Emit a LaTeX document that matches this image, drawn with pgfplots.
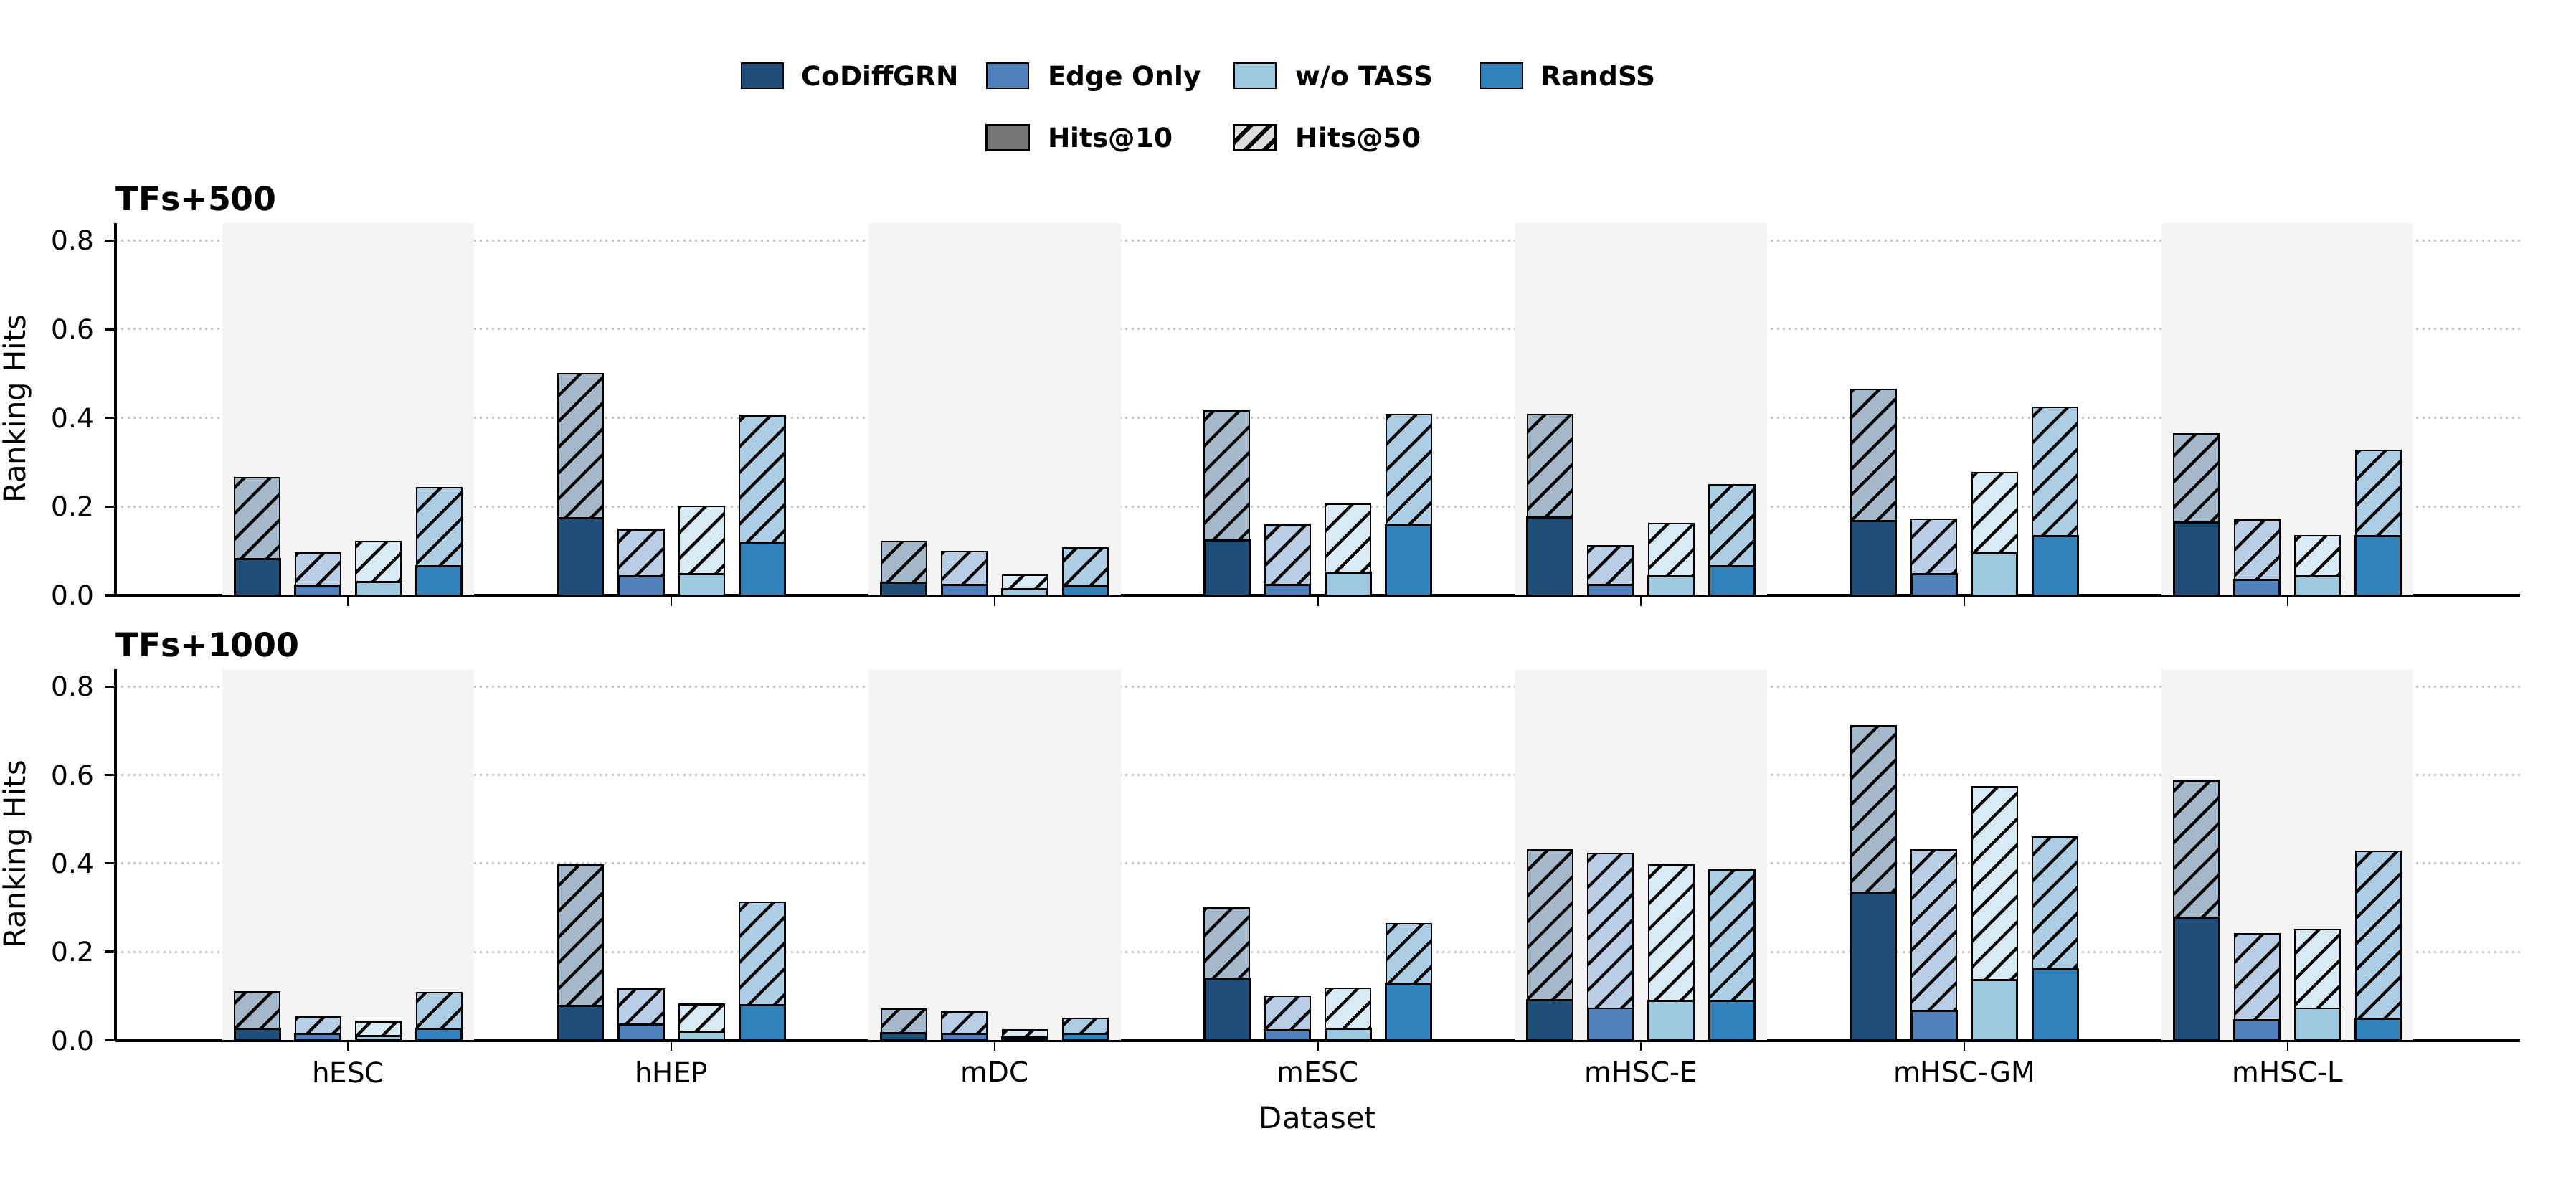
\documentclass[border=0pt]{standalone}
\usepackage{fontspec}
\setmainfont{DejaVu Sans}
\usepackage{pgfplots}
\pgfplotsset{compat=1.18}
\usepackage{pgfplotstable}
\usetikzlibrary{patterns.meta}

\definecolor{cGRN}{HTML}{1F4E79}
\definecolor{cEdge}{HTML}{4F81BD}
\definecolor{cTASS}{HTML}{9ECAE1}
\definecolor{cRand}{HTML}{3182BD}
\definecolor{bandc}{HTML}{F4F4F4}
\definecolor{gridc}{HTML}{C8C8C8}
\definecolor{hitsten}{HTML}{777777}
\definecolor{hitsfifty}{HTML}{DDDDDD}

% Hits@10 (x10) and Hits@50 (x50) per dataset; c = CoDiffGRN, e = Edge Only, w = w/o TASS, r = RandSS
\pgfplotstableread{
g c10   c50   e10   e50   w10   w50   r10   r50
0 0.081 0.265 0.022 0.095 0.030 0.121 0.065 0.243
1 0.174 0.500 0.043 0.148 0.047 0.201 0.119 0.405
2 0.028 0.122 0.023 0.098 0.014 0.046 0.020 0.107
3 0.124 0.415 0.024 0.158 0.051 0.205 0.157 0.407
4 0.176 0.408 0.024 0.111 0.043 0.162 0.065 0.249
5 0.168 0.464 0.047 0.172 0.094 0.277 0.134 0.423
6 0.164 0.363 0.035 0.169 0.043 0.134 0.133 0.327
}\tfsfive

\pgfplotstableread{
g c10   c50   e10   e50   w10   w50   r10   r50
0 0.026 0.109 0.015 0.053 0.010 0.042 0.026 0.107
1 0.078 0.397 0.035 0.116 0.020 0.081 0.080 0.312
2 0.016 0.070 0.014 0.064 0.006 0.024 0.014 0.050
3 0.140 0.299 0.022 0.100 0.026 0.118 0.128 0.263
4 0.090 0.431 0.072 0.422 0.089 0.396 0.089 0.385
5 0.334 0.711 0.067 0.431 0.136 0.573 0.160 0.459
6 0.277 0.587 0.046 0.241 0.072 0.251 0.049 0.427
}\tfsthousand

\pgfplotsset{
  hitsbar/.style={ybar, bar width=0.14, draw=black, line width=0.5pt, forget plot},
  hatched/.style={postaction={pattern={Lines[angle=45,distance=6.1pt,line width=1pt]}, pattern color=black}},
  panel/.style={
    set layers,
    scale only axis, width=804.72pt, anchor=south west,
    xmin=-0.72, xmax=6.72, ymin=0, ymax=0.84,
    xtick={0,1,2,3,4,5,6}, ytick={0,0.2,0.4,0.6,0.8},
    axis x line*=bottom, axis y line*=left,
    axis line style={-, line width=1.1pt},
    tick align=outside, major tick length=3.6pt,
    xtick style={line width=0.5pt, black},
    ytick style={line width=0.8pt, black},
    ymajorgrids,
    major grid style={gridc, line width=0.7pt, dash pattern=on 0.7pt off 1.3pt},
    /pgf/number format/assume math mode=true,
    yticklabel style={/pgf/number format/fixed, /pgf/number format/fixed zerofill, /pgf/number format/precision=1},
    tick label style={font=\fontsize{9}{10}\selectfont},
    xticklabel style={font=\fontsize{9.3}{10}\selectfont},
    every axis y label/.style={at={(axis description cs:-0.041,0.5)}, rotate=90, anchor=center, font=\fontsize{10}{12}\selectfont},
    ylabel={Ranking Hits},
    title style={at={(axis description cs:0,1)}, anchor=base west, yshift=-1.9pt, inner sep=0pt, font=\bfseries\fontsize{11}{13}\selectfont},
  },
}

% the four stacked bars of every dataset: Hits@50 hatched, Hits@10 solid in front
\newcommand{\drawbars}[1]{%
  \addplot[hitsbar, bar shift=-0.28125, fill=cGRN!40!white, hatched] table[x=g, y=c50] {#1};
  \addplot[hitsbar, bar shift=-0.09375, fill=cEdge!40!white, hatched] table[x=g, y=e50] {#1};
  \addplot[hitsbar, bar shift=0.09375, fill=cTASS!40!white, hatched] table[x=g, y=w50] {#1};
  \addplot[hitsbar, bar shift=0.28125, fill=cRand!40!white, hatched] table[x=g, y=r50] {#1};
  \addplot[hitsbar, line width=0.7pt, bar shift=-0.28125, fill=cGRN] table[x=g, y=c10] {#1};
  \addplot[hitsbar, line width=0.7pt, bar shift=-0.09375, fill=cEdge] table[x=g, y=e10] {#1};
  \addplot[hitsbar, line width=0.7pt, bar shift=0.09375, fill=cTASS] table[x=g, y=w10] {#1};
  \addplot[hitsbar, line width=0.7pt, bar shift=0.28125, fill=cRand] table[x=g, y=r10] {#1};
}
\newcommand{\drawbands}{%
  \fill[bandc, on layer=axis background] (axis cs:-0.39,0) rectangle (axis cs:0.39,0.84);
  \fill[bandc, on layer=axis background] (axis cs:1.61,0) rectangle (axis cs:2.39,0.84);
  \fill[bandc, on layer=axis background] (axis cs:3.61,0) rectangle (axis cs:4.39,0.84);
  \fill[bandc, on layer=axis background] (axis cs:5.61,0) rectangle (axis cs:6.39,0.84);
}

\begin{document}
\begin{tikzpicture}
\begin{axis}[panel, at={(38.64pt,197.76pt)}, height=124.68pt,
  title={TFs+500}, xticklabels={},
  legend columns=4,
  legend image code/.code={\draw[#1] (0pt,-0.9pt) rectangle (14pt,7.5pt);},
  legend style={at={(axis description cs:0.260,1.4296)}, anchor=north west,
    draw=none, fill=none, inner sep=0pt, outer sep=0pt,
    font=\bfseries\fontsize{9}{10}\selectfont, row sep=11pt,
    nodes={inner sep=0pt}, cells={anchor=base west},
    /tikz/every odd column/.style={column sep=6pt},
    /tikz/every even column/.style={column sep=0pt}},
]
\addlegendimage{fill=cGRN, draw=none}
\addlegendentry{\makebox[61.6pt][l]{CoDiffGRN}}
\addlegendimage{fill=cEdge, draw=none}
\addlegendentry{\makebox[61.6pt][l]{Edge Only}}
\addlegendimage{fill=cTASS, draw=none}
\addlegendentry{\makebox[61.6pt][l]{w/o TASS}}
\addlegendimage{fill=cRand, draw=none}
\addlegendentry{\makebox[61.6pt][l]{RandSS}}
\addlegendimage{empty legend}
\addlegendentry{\makebox[61.6pt][l]{}}
\addlegendimage{fill=hitsten, draw=black, line width=0.8pt}
\addlegendentry{\makebox[61.6pt][l]{Hits@10}}
\addlegendimage{fill=hitsfifty, draw=black, line width=0.8pt, postaction={pattern={Lines[angle=45,distance=4.5pt,line width=1.4pt]}, pattern color=black}}
\addlegendentry{\makebox[61.6pt][l]{Hits@50}}
\addlegendimage{empty legend}
\addlegendentry{\makebox[61.6pt][l]{}}
\drawbands
\drawbars{\tfsfive}
\end{axis}

\begin{axis}[panel, at={(38.64pt,48.86pt)}, height=124.3pt,
  title={TFs+1000},
  xticklabels={hESC,hHEP,mDC,mESC,mHSC-E,mHSC-GM,mHSC-L},
  xlabel={Dataset},
  every axis x label/.style={at={(axis description cs:0.5,-0.2084)}, anchor=center, font=\fontsize{10}{12}\selectfont},
]
\drawbands
\drawbars{\tfsthousand}
\end{axis}
\pgfresetboundingbox
\path[use as bounding box] (0,0) rectangle (862.08pt,396.96pt);
\end{tikzpicture}
\end{document}
